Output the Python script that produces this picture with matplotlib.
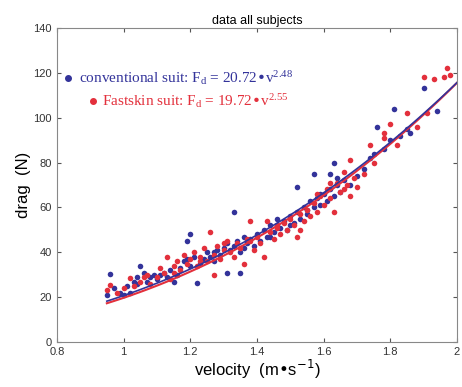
import numpy as np
import matplotlib
matplotlib.use("Agg")
from matplotlib import pyplot as plt

# conventional suit (blue)
conv_v = [0.95, 0.96, 0.97, 0.99, 1.00, 1.01, 1.02, 1.03, 1.04, 1.05, 1.06, 1.07, 1.08, 1.09,
          1.10, 1.12, 1.13, 1.14, 1.15, 1.16, 1.17, 1.18, 1.19, 1.20, 1.20, 1.21, 1.22, 1.23,
          1.24, 1.25, 1.26, 1.27, 1.28, 1.29, 1.30, 1.31, 1.31, 1.32, 1.33, 1.33, 1.34, 1.35,
          1.35, 1.36, 1.37, 1.38, 1.39, 1.40, 1.41, 1.42, 1.43, 1.44, 1.45, 1.46, 1.47, 1.48,
          1.49, 1.50, 1.51, 1.52, 1.52, 1.53, 1.54, 1.55, 1.56, 1.57, 1.57, 1.58, 1.59, 1.60,
          1.61, 1.62, 1.62, 1.63, 1.63, 1.64, 1.65, 1.66, 1.68, 1.70, 1.72, 1.74, 1.75, 1.76,
          1.78, 1.80, 1.81, 1.83, 1.85, 1.86, 1.90, 1.94,
          1.04, 1.11, 1.19, 1.27, 1.36, 1.44, 1.50, 1.55, 1.59, 1.64]
conv_F = [21, 30.5, 24, 22, 21, 25, 22, 27, 29, 34, 31, 27, 29, 30,
          28, 31, 29, 32, 27, 30, 33, 36, 45, 48, 34, 38, 26.5, 35,
          37, 40, 38, 36, 41, 39, 42, 30.7, 44, 41, 58, 43, 45, 31,
          40, 47, 44, 46, 43, 48, 45, 50, 47, 52, 49, 55, 51, 54,
          50, 56, 53, 69, 58, 55, 60, 57, 63, 75, 60, 64, 61, 66,
          63, 75, 68, 80, 65, 70, 67, 72, 70, 74, 77, 82, 84, 96,
          86, 90, 104, 92, 95, 93, 113, 103,
          26, 30, 37, 40, 42, 47, 52, 59, 66, 73]

# Fastskin suit (red)
fast_v = [0.95, 0.96, 0.98, 1.00, 1.02, 1.03, 1.05, 1.07, 1.08, 1.10, 1.11, 1.12, 1.13, 1.14,
          1.15, 1.16, 1.17, 1.18, 1.19, 1.20, 1.21, 1.22, 1.23, 1.24, 1.25, 1.26, 1.27, 1.27,
          1.28, 1.29, 1.30, 1.31, 1.32, 1.33, 1.34, 1.35, 1.36, 1.37, 1.38, 1.39, 1.40, 1.41,
          1.42, 1.43, 1.44, 1.45, 1.46, 1.47, 1.48, 1.49, 1.50, 1.51, 1.52, 1.53, 1.54, 1.55,
          1.56, 1.57, 1.58, 1.59, 1.60, 1.61, 1.62, 1.63, 1.64, 1.65, 1.66, 1.67, 1.68, 1.68,
          1.69, 1.70, 1.72, 1.74, 1.75, 1.78, 1.78, 1.80, 1.82, 1.85, 1.88, 1.90, 1.91, 1.93,
          1.96, 1.97, 1.98,
          1.06, 1.15, 1.23, 1.30, 1.38, 1.46, 1.53, 1.58, 1.62, 1.66]
fast_F = [23, 25.5, 22, 24, 28.5, 25, 27, 30, 26, 29, 33, 31, 38, 28,
          34, 36, 32, 39, 35, 37, 40, 34, 38, 42, 36, 49, 30, 39,
          43, 37, 41, 45, 40, 38, 44, 42, 35, 46, 54, 41, 47, 44,
          38, 54, 49, 46, 51, 48, 53, 50, 55, 52, 47, 57, 54, 59,
          56, 62, 58, 65, 61, 68, 64, 58, 71, 67, 76, 70, 81, 65,
          73, 69, 75, 88, 80, 93, 91, 97, 88, 102, 96, 118, 102, 117,
          118, 122, 119,
          29, 31, 36, 44, 45, 52, 50, 66, 71, 68]

conv_a, conv_b = 20.72, 2.48
fast_a, fast_b = 19.72, 2.55

blue = "#33339a"
red = "#e3303c"

plt.rcParams['font.family'] = ['Liberation Sans', 'DejaVu Sans']
fig = plt.figure(figsize=(4.62, 3.87), dpi=100)
ax = fig.add_axes([0.123, 0.116, 0.866, 0.812])

ax.scatter(conv_v, conv_F, s=16, color=blue, zorder=3, linewidths=0)
ax.scatter(fast_v, fast_F, s=16, color=red, zorder=3, linewidths=0)

vv = np.linspace(0.95, 2.0, 100)
ax.plot(vv, fast_a * vv ** fast_b, color=red, lw=1.5, zorder=4)
ax.plot(vv, conv_a * vv ** conv_b, color=blue, lw=1.2, zorder=4)

ax.set_xlim(0.8, 2.0)
ax.set_ylim(0, 140)
ax.set_xticks([0.8, 1, 1.2, 1.4, 1.6, 1.8, 2])
ax.set_xticklabels(["0.8", "1", "1.2", "1.4", "1.6", "1.8", "2"])
ax.set_yticks(range(0, 141, 20))
ax.tick_params(direction="in", top=True, right=True, labelsize=8, length=3,
               colors="#555555", labelcolor="#333333")
for s in ax.spines.values():
    s.set_color("#888888")

ax.set_title("data all subjects", fontsize=9, pad=3)
ax.set_xlabel("velocity  (m\u2022s$^{-1}$)", fontsize=12, labelpad=1)
ax.set_ylabel("drag  (N)", fontsize=12, labelpad=2)

# legend-like annotations
serif = ["Liberation Serif", "DejaVu Serif"]
ax.plot([0.833], [117.5], "o", color=blue, ms=4, clip_on=False)
ax.text(0.868, 117.5,
        "conventional suit: F$\\mathregular{_d}$ = 20.72\u2022v$\\mathregular{^{2.48}}$",
        color=blue, fontsize=11, family=serif, va="center")
ax.plot([0.907], [107.5], "o", color=red, ms=4, clip_on=False)
ax.text(0.935, 107.5,
        "Fastskin suit: F$\\mathregular{_d}$ = 19.72\u2022v$\\mathregular{^{2.55}}$",
        color=red, fontsize=11, family=serif, va="center")

fig.savefig("out.png", dpi=100)
